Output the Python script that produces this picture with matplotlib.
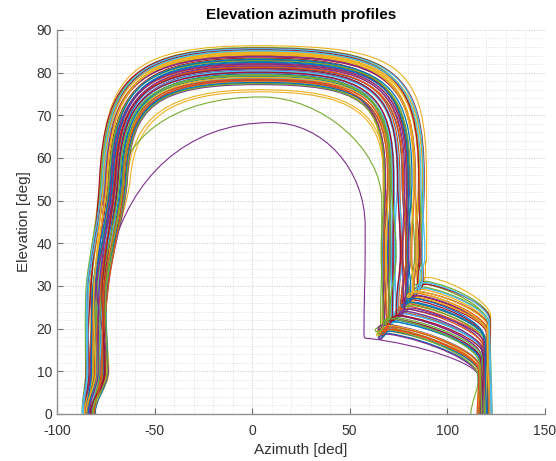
import matplotlib
matplotlib.use("Agg")
import matplotlib.pyplot as plt
from matplotlib.path import Path
from matplotlib.patches import PathPatch
from matplotlib.ticker import MultipleLocator

plt.rcParams['font.family'] = ['Liberation Sans', 'DejaVu Sans']
plt.rcParams['axes.unicode_minus'] = False

# one entry per profile (deg)
peak_el = [82.6, 78.4, 84.9, 80.6, 85.6, 79.4, 83.4, 77.5, 81.8, 84.5, 80.0, 85.9,
           78.7, 82.9, 81.1, 84.0, 77.9, 82.2, 85.2, 80.2, 83.7, 79.1, 81.4, 84.7,
           77.2, 83.2, 80.8, 85.7, 79.7, 82.0, 84.2, 78.2, 82.8, 80.4, 85.4, 77.7,
           81.2, 78.9, 83.8, 77.4, 85.1, 80.1, 82.4, 78.1, 84.6, 81.6, 79.5, 85.6,
           80.9, 83.1, 78.5, 84.3, 82.0, 79.3]
left_az55 = [-71.5, -66.4, -77.0, -68.2, -76.5, -67.9, -72.8, -64.6, -71.8, -74.7, -68.9, -77.3,
             -65.1, -73.7, -69.0, -75.4, -65.3, -70.9, -77.5, -67.6, -74.9, -67.3, -69.6, -76.6,
             -63.9, -72.6, -70.1, -78.2, -66.8, -72.1, -74.2, -64.3, -73.4, -68.0, -76.2, -65.0,
             -70.6, -65.6, -75.0, -64.2, -75.8, -68.7, -71.3, -65.5, -76.3, -70.0, -67.9, -76.8,
             -70.2, -72.5, -66.3, -74.5, -72.0, -66.1]
left_az30 = [-78.6, -76.2, -84.1, -76.8, -82.3, -77.4, -79.5, -74.3, -80.0, -81.0, -75.4, -85.0,
             -73.8, -81.4, -77.1, -82.8, -75.6, -78.2, -84.3, -78.1, -80.2, -76.7, -77.6, -83.4,
             -74.0, -79.1, -78.9, -82.6, -75.1, -80.4, -81.2, -75.3, -79.3, -76.0, -84.0, -74.8,
             -77.5, -76.4, -80.1, -74.6, -83.8, -75.9, -80.7, -73.6, -81.0, -79.7, -77.0, -84.6,
             -76.8, -81.6, -75.7, -81.1, -78.3, -74.9]
left_az10 = [-79.0, -75.2, -84.5, -77.8, -81.0, -74.0, -80.3, -76.1, -82.6, -78.5, -74.8, -85.3,
             -77.0, -83.0, -75.9, -80.8, -73.5, -79.6, -84.0, -76.5, -81.8, -78.0, -74.4, -82.0,
             -75.5, -80.0, -77.3, -85.0, -76.0, -83.5, -79.3, -74.9, -81.3, -78.8, -83.8, -73.9,
             -80.6, -74.6, -82.9, -76.6, -84.2, -75.3, -79.8, -77.4, -81.6, -73.8, -78.4, -84.7,
             -75.7, -82.3, -76.9, -80.1, -78.9, -74.2]
start_az = [-83.5, -81.2, -86.3, -82.4, -85.0, -80.8, -84.1, -81.9, -86.8, -83.0, -80.5, -87.0,
            -82.0, -85.6, -81.5, -84.6, -80.9, -83.8, -86.0, -82.7, -85.3, -81.0, -82.9, -84.9,
            -81.7, -83.3, -82.2, -86.6, -80.7, -85.8, -84.3, -81.4, -83.6, -82.5, -85.5, -80.6,
            -84.0, -81.1, -85.2, -80.9, -86.4, -82.3, -83.9, -81.6, -85.9, -82.8, -81.3, -86.9,
            -83.1, -84.7, -80.8, -85.1, -83.4, -82.0]
right_az = [80.6, 68.3, 87.4, 74.8, 85.9, 72.9, 79.6, 68.1, 77.7, 85.3, 72.3, 87.8,
            72.2, 79.5, 76.9, 83.2, 67.2, 80.8, 86.0, 71.9, 83.3, 71.1, 75.8, 85.9,
            68.4, 80.2, 75.2, 88.3, 70.6, 79.3, 83.6, 67.9, 81.1, 74.4, 85.5, 69.8,
            77.1, 69.8, 83.8, 67.9, 86.6, 72.6, 80.1, 69.5, 83.6, 78.3, 71.4, 88.0,
            74.6, 82.0, 70.5, 82.9, 79.0, 70.8]
right_shift40 = [-1.5, 2.0, -0.5, 1.2, -2.2, 0.8, 1.8, -1.0, 2.4, -1.8, 0.3, -2.5,
                 1.5, -0.8, 2.2, -1.3, 0.6, -2.0, 1.0, -0.3, 2.5, -1.6, 0.9, -2.3,
                 1.7, -0.6, 2.1, -1.1, 0.4, -1.9, 1.3, -0.2, 2.3, -1.4, 0.7, -2.4,
                 1.9, -0.9, 0.2, -1.7, 2.0, -0.4, 1.1, -2.1, 0.5, -1.2, 2.4, -0.7,
                 1.6, -2.2, 0.1, -1.5, 1.4, -0.1]
turn_el = [25.8, 19.6, 29.0, 22.4, 30.1, 21.0, 26.9, 18.4, 24.8, 27.0, 22.7, 30.6,
           20.0, 26.4, 23.0, 27.8, 19.0, 24.3, 29.3, 21.8, 27.2, 21.6, 23.3, 28.7,
           18.2, 25.5, 23.7, 29.9, 21.2, 25.3, 26.8, 20.5, 24.9, 23.2, 28.1, 18.9,
           24.2, 20.2, 27.3, 19.3, 29.0, 21.7, 25.7, 19.3, 28.3, 23.5, 22.2, 30.3,
           22.6, 26.6, 19.9, 28.0, 24.0, 21.8]
cross_el = [17.6, 10.4, 21.2, 13.7, 22.0, 12.0, 18.8, 9.1, 16.4, 19.2, 13.9, 22.6,
            10.8, 18.2, 14.4, 19.7, 9.7, 15.9, 21.4, 13.1, 19.0, 12.6, 14.8, 20.7,
            8.6, 17.4, 15.1, 22.3, 12.3, 16.9, 18.9, 11.3, 16.8, 14.5, 20.5, 9.4,
            15.6, 11.1, 19.3, 9.0, 21.3, 12.9, 17.4, 10.1, 20.4, 15.0, 13.2, 22.1,
            14.0, 18.3, 10.7, 19.0, 16.7, 11.8]
col_az = [119.6, 116.2, 121.3, 117.5, 120.2, 117.9, 120.4, 115.8, 119.2, 121.0, 117.1, 121.8,
          117.6, 118.7, 118.9, 120.6, 116.9, 118.4, 121.5, 117.2, 120.1, 116.6, 119.0, 121.1,
          116.5, 119.9, 117.6, 122.0, 118.1, 118.3, 120.7, 116.1, 119.8, 118.4, 121.2, 117.0,
          118.9, 116.4, 120.3, 115.9, 121.2, 117.1, 119.5, 116.2, 120.9, 118.0, 118.0, 121.6,
          118.6, 118.9, 117.3, 120.5, 119.1, 116.8]
end_az = [118.2, 117.5, 122.6, 116.3, 121.4, 119.0, 118.9, 116.8, 120.5, 119.6, 118.3, 123.0,
          116.4, 120.2, 117.7, 121.9, 115.6, 119.7, 120.3, 118.6, 121.5, 117.9, 117.4, 122.4,
          115.9, 118.5, 119.1, 120.8, 116.9, 119.9, 122.1, 117.2, 118.1, 120.0, 122.8, 116.2,
          119.5, 115.8, 121.7, 117.0, 122.5, 118.3, 120.6, 115.4, 119.8, 117.3, 119.2, 122.9,
          117.6, 120.1, 116.4, 121.6, 118.2, 117.8]

# profiles that stand apart from the bundle
odd_color = ['#EDB120', '#EDB120', '#EDB120', '#77AC30', '#7E2F8E']
odd_peak = [86.3, 76.0, 75.5, 74.3, 68.3]
odd_peak_az = [3.0, 4.0, 4.0, 5.0, 10.0]
odd_left_az = [-78.0, -64.0, -62.5, -71.0, -72.0]
odd_left_el = [55, 55, 55, 51, 38]
odd_left30 = [-84.5, -77.0, -76.0, -78.5, -76.0]
odd_left10 = [-85.0, -78.0, -77.5, -79.0, -80.0]
odd_start = [-86.5, -82.0, -81.5, -83.0, -84.0]
odd_right_az = [89.5, 68.5, 67.5, 66.5, 58.0]
odd_right_el = [55, 55, 55, 50, 44]
odd_turn = [31.5, 20.5, 19.8, 20.0, 17.7]
odd_cross = [23.0, 10.0, 9.5, 10.0, 8.8]
odd_col = [122.3, 116.8, 116.0, 116.5, 116.2]
odd_end = [121.0, 117.5, 115.5, 112.0, 117.0]
odd_kl = [0.8, 0.7, 0.7, 0.6, 0.55]
odd_kr = [0.85, 0.75, 0.75, 0.5, 0.55]
odd_tl = [0.115, 0.2, 0.2, 0.35, 0.6]
odd_loop = [True, True, True, True, False]

matlab_colors = ['#0072BD', '#D95319', '#EDB120', '#7E2F8E', '#77AC30', '#4DBEEE', '#A2142F']


def profile_path(s, k, m, la, pk, r, b, e1, c, f, la_el=55, xc=3.0,
                 kl=0.78, kr=0.82, r_el=55, tl=0.115, loop=True, dr=0.0):
    C = Path.CURVE4
    verts = [(s, -1.0)]
    codes = [Path.MOVETO]

    def seg(p1, p2, p3):
        verts.extend([p1, p2, p3])
        codes.extend([C, C, C])

    # rise from the horizon with the low wiggle
    sm = 0.5 * ((m - k) / 20.0 + (la - m) / (la_el - 30.0))
    seg((s - 0.6, 3.5), (k, 6.0), (k, 10))
    seg((k, 15), (m - 5 * sm, 25), (m, 30))
    h1 = 0.25 * (la_el - 30)
    h = 0.28 * (la_el - 30)
    seg((m + sm * h1, 30 + h1), (la - tl * h, la_el - h), (la, la_el))
    # over the top
    d = kl * (pk - la_el)
    seg((la + tl * d, la_el + d), (xc - kl * (xc - la), pk), (xc, pk))
    seg((xc + kr * (r - xc), pk), (r, r_el + kr * (pk - r_el)), (r, r_el))
    # down the right side, wandering a little
    r2 = r - 0.6
    seg((r, r_el - 6), (r + dr, 44), (r + dr, 38))
    seg((r + dr, 32), (r2, b + 8), (r2, b + 1.7))
    if loop:
        seg((r2, b - 2.9), (r2 - 7.6, b + 0.5), (r2 + 2.5, b + 0.5))
        x0, y0 = r2 + 2.5, b + 0.5
    else:
        seg((r2, b), (r2, b), (r2 + 2.5, b))
        x0, y0 = r2 + 2.5, b
    # across to the second leg and down
    seg((x0 + 0.45 * (c - x0), y0 - 0.15 * (y0 - e1)), (c - 0.5, e1 + 0.35 * (y0 - e1)), (c, e1))
    seg((c + 0.3, e1 * 0.6), (f, e1 * 0.3), (f, -1.0))
    return Path(verts, codes)


fig = plt.figure(figsize=(5.56, 4.61), dpi=100)
ax = fig.add_axes([0.1025, 0.102, 0.877, 0.833])

for i in range(len(odd_peak)):
    p = profile_path(odd_start[i], odd_left10[i], odd_left30[i], odd_left_az[i], odd_peak[i],
                     odd_right_az[i], odd_turn[i], odd_cross[i], odd_col[i], odd_end[i],
                     la_el=odd_left_el[i], xc=odd_peak_az[i], kl=odd_kl[i], kr=odd_kr[i],
                     r_el=odd_right_el[i], tl=odd_tl[i], loop=odd_loop[i])
    ax.add_patch(PathPatch(p, fill=False, edgecolor=odd_color[i], lw=0.8))

for i in range(len(peak_el)):
    p = profile_path(start_az[i], left_az10[i], left_az30[i], left_az55[i], peak_el[i],
                     right_az[i], turn_el[i], cross_el[i], col_az[i], end_az[i],
                     dr=right_shift40[i])
    ax.add_patch(PathPatch(p, fill=False, edgecolor=matlab_colors[i % 7], lw=0.9))

ax.set_xlim(-100, 150)
ax.set_ylim(0, 90)
ax.xaxis.set_major_locator(MultipleLocator(50))
ax.xaxis.set_minor_locator(MultipleLocator(10))
ax.yaxis.set_major_locator(MultipleLocator(10))
ax.yaxis.set_minor_locator(MultipleLocator(2))
ax.grid(which='major', color='#c8c8c8', linestyle=':', linewidth=0.7)
ax.grid(which='minor', color='#dadada', linestyle=':', linewidth=0.6)
ax.set_axisbelow(True)

for side in ['top', 'right']:
    ax.spines[side].set_visible(False)
for side in ['left', 'bottom']:
    ax.spines[side].set_color('#909090')
    ax.spines[side].set_linewidth(1.0)
ax.tick_params(which='major', direction='in', length=4, color='#707070',
               labelsize=10, labelcolor='#333333')
ax.tick_params(axis='x', which='major', pad=7)
ax.tick_params(which='minor', length=0)

ax.set_title('Elevation azimuth profiles', fontsize=11, fontweight='bold', pad=8)
ax.set_xlabel('Azimuth [ded]', fontsize=11, color='#333333', labelpad=4)
ax.set_ylabel('Elevation [deg]', fontsize=11, color='#333333', labelpad=4)

fig.savefig('out.png', dpi=100)
